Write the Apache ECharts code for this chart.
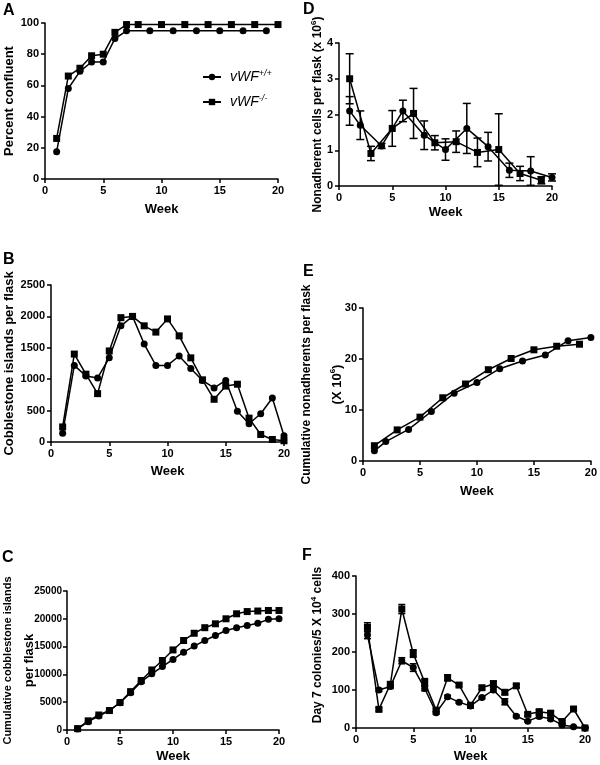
<!DOCTYPE html>
<html>
<head>
<meta charset="utf-8">
<script src="https://cdn.jsdelivr.net/npm/echarts@6/dist/echarts.min.js"></script>
<style>
  html, body { margin: 0; padding: 0; background: #fff; }
  #main { width: 600px; height: 765px; }
</style>
</head>
<body>
<div id="main"></div>
<script>
// weeks
var weeks = [1,2,3,4,5,6,7,8,9,10,11,12,13,14,15,16,17,18,19,20];

// A - percent confluent
var aWeeksWT = [1,2,3,4,5,6,7,9,11,13,15,17,19];
var aWT = [17.5,58,69,75,75,90,95,95,95,95,95,95,95];
var aWeeksKO = [1,2,3,4,5,6,7,8,10,12,14,16,18,20];
var aKO = [26,66,71,79,80,94,99,99,99,99,99,99,99,99];

// B - cobblestone islands per flask
var bWT = [140,1220,1050,1020,1340,1850,2000,1560,1220,1220,1370,1170,980,860,980,490,290,450,700,100];
var bKO = [240,1400,1080,770,1450,1980,2000,1850,1750,1960,1690,1340,990,680,890,920,380,120,40,20];

// C - cumulative cobblestone islands
var cWT = [200,1500,2500,3500,4900,6700,8700,10100,11400,12700,14000,15100,16100,17000,17900,18400,18800,19200,19900,20000];
var cKO = [250,1650,2700,3500,4950,6900,8900,10800,12500,14400,16100,17400,18400,19100,20000,20900,21300,21400,21500,21500];

// D - nonadherent cells (x10^6), mean and SEM
var dWeeksWT = [1,2,4,6,8,10,12,14,16,18,20];
var dWT = [2.1,1.7,1.12,2.1,1.42,1.02,1.61,1.1,0.44,0.42,0.24];
var dErrWT = [0.4,0.4,0.07,0.3,0.4,0.3,0.7,0.4,0.2,0.4,0.1];
var dWeeksKO = [1,3,5,7,9,11,13,15,17,19];
var dKO = [3.0,0.91,1.61,2.03,1.21,1.24,0.94,1.02,0.35,0.16];
var dErrKO = [0.7,0.2,0.5,0.7,0.2,0.3,0.4,1.0,0.2,0.1];

// E - cumulative nonadherents (x10^6)
var eWeeksWT = [1,2,4,6,8,10,12,14,16,18,20];
var eWT = [2.0,3.8,6.2,9.7,13.3,15.4,18.1,19.6,20.8,23.6,24.2];
var eWeeksKO = [1,3,5,7,9,11,13,15,17,19];
var eKO = [3.0,6.1,8.6,12.4,15.1,17.9,20.1,21.8,22.5,22.9];

// F - day 7 colonies / 5x10^4 cells
var fWT = [245,100,109,177,159,104,40,82,68,58,80,100,69,31,18,30,24,8,3,0];
var fErrWT = [10,4,5,8,10,6,4,4,3,5,3,6,8,3,2,4,4,2,1,2];
var fKO = [265,49,115,313,196,120,47,132,113,60,106,116,94,111,36,43,39,17,50,0];
var fErrKO = [12,4,6,12,10,10,4,8,4,4,4,8,6,4,4,5,5,3,4,2];

var FONT = 'Liberation Sans, Arial, sans-serif';
var WT = 'vWF+/+', KO = 'vWF-/-';

function pairs(xs, ys) {
    return xs.map(function (x, i) { return [x, ys[i]]; });
}

function xAx(idx, gap) {
    return {
        type: 'value', gridIndex: idx, min: 0, max: 20, interval: 5,
        name: 'Week', nameLocation: 'middle', nameGap: gap, nameMoveOverlap: false,
        nameTextStyle: { color: '#000', fontWeight: 'bold', fontSize: 13, lineHeight: 16, fontFamily: FONT },
        axisLine: { show: true, lineStyle: { color: '#000', width: 1.5 } },
        axisTick: { show: true, length: 4, lineStyle: { color: '#000', width: 1.5 } },
        axisLabel: { color: '#000', fontWeight: 'bold', fontSize: 11, margin: 6, fontFamily: FONT },
        splitLine: { show: false }
    };
}

function yAx(idx, max, interval, name, gap, extra, labelSize) {
    var ax = {
        type: 'value', gridIndex: idx, min: 0, max: max, interval: interval,
        name: name, nameLocation: 'middle', nameGap: gap, nameMoveOverlap: false,
        nameTextStyle: { color: '#000', fontWeight: 'bold', fontSize: 13, lineHeight: 16, fontFamily: FONT },
        axisLine: { show: true, lineStyle: { color: '#000', width: 1.5 } },
        axisTick: { show: true, length: 4, lineStyle: { color: '#000', width: 1.5 } },
        axisLabel: {
            color: '#000', fontWeight: 'bold', fontSize: labelSize || 11, margin: labelSize ? 5 : 6, fontFamily: FONT,
            formatter: function (v) { return String(v); }
        },
        splitLine: { show: false }
    };
    if (extra) {
        for (var k in extra) ax.nameTextStyle[k] = extra[k];
    }
    return ax;
}

function line(idx, name, sym, data) {
    return {
        type: 'line', name: name, xAxisIndex: idx, yAxisIndex: idx,
        data: data, symbol: sym, symbolSize: 7, showSymbol: true,
        lineStyle: { color: '#000', width: 1.5 },
        itemStyle: { color: '#000' },
        z: 3
    };
}

// vertical error bars with caps
function errBars(idx, xs, ys, es, cap) {
    return {
        type: 'custom', xAxisIndex: idx, yAxisIndex: idx, silent: true, z: 2,
        data: xs.map(function (x, i) { return [x, Math.max(0, ys[i] - es[i]), ys[i] + es[i]]; }),
        renderItem: function (params, api) {
            var lo = api.coord([api.value(0), api.value(1)]);
            var hi = api.coord([api.value(0), api.value(2)]);
            var st = { stroke: '#000', lineWidth: 1.5 };
            return {
                type: 'group', children: [
                    { type: 'line', shape: { x1: lo[0], y1: lo[1], x2: hi[0], y2: hi[1] }, style: st },
                    { type: 'line', shape: { x1: lo[0] - cap, y1: lo[1], x2: lo[0] + cap, y2: lo[1] }, style: st },
                    { type: 'line', shape: { x1: hi[0] - cap, y1: hi[1], x2: hi[0] + cap, y2: hi[1] }, style: st }
                ]
            };
        }
    };
}

var nameRich = {
    a: { fontSize: 12, fontWeight: 'bold', color: '#000', lineHeight: 16, fontFamily: FONT },
    m: { fontSize: 13, fontWeight: 'bold', color: '#000', lineHeight: 16, fontFamily: FONT },
    c: { fontSize: 11, fontWeight: 'bold', color: '#000', lineHeight: 14, fontFamily: FONT },
    b: { fontSize: 8, fontWeight: 'bold', color: '#000', lineHeight: 6, verticalAlign: 'top', fontFamily: FONT },
    g: { fontSize: 12, lineHeight: 14 },
    h: { fontSize: 12, lineHeight: 6 }
};

var letter = function (t, x, y) {
    return { text: t, left: x, top: y, padding: 0, textStyle: { fontSize: 16, fontWeight: 'bold', color: '#000', fontFamily: FONT } };
};

var myChart = echarts.init(document.getElementById('main'));
var option = {
    animation: false,
    backgroundColor: '#fff',
    textStyle: { fontFamily: FONT },
    title: [letter('A', 3, 3), letter('B', 3, 252), letter('C', 2, 550), letter('D', 303, 2), letter('E', 303, 264), letter('F', 302, 548)],
    legend: {
        orient: 'vertical', left: 197, top: 64, itemGap: 10,
        itemWidth: 18, itemHeight: 8, selectedMode: false,
        data: [WT, KO],
        formatter: function (n) {
            return n === WT ? '{i|vWF}{s|+/+}' : '{i|vWF}{s|-/-}';
        },
        textStyle: {
            rich: {
                i: { fontSize: 14, fontStyle: 'italic', color: '#000', lineHeight: 16, padding: [0, 0, 0, 4], fontFamily: FONT },
                s: { fontSize: 9, fontStyle: 'italic', color: '#000', lineHeight: 6, verticalAlign: 'top', fontFamily: FONT }
            }
        }
    },
    grid: [
        { left: 44, top: 23, width: 234, height: 156 },
        { left: 50, top: 285, width: 234, height: 157 },
        { left: 67, top: 591, width: 212, height: 142 },
        { left: 339, top: 43, width: 213, height: 143 },
        { left: 363, top: 308, width: 230, height: 153 },
        { left: 356, top: 576, width: 229, height: 152 }
    ],
    xAxis: [xAx(0, 22), xAx(1, 21), xAx(2, 18), xAx(3, 18), xAx(4, 22), xAx(5, 20)],
    yAxis: [
        yAx(0, 100, 20, 'Percent confluent', 28),
        yAx(1, 2500, 500, 'Cobblestone islands per flask', 34),
        yAx(2, 25000, 5000, '{c|Cumulative cobblestone islands}\n{h| }\n{m|per flask}', 30, { rich: nameRich }, 10),
        yAx(3, 4, 1, '{a|Nonadherent cells per flask (x 10}{b|6}{a|)}', 13, { rich: nameRich }),
        yAx(4, 30, 10, '{a|Cumulative nonadherents per flask}\n{g| }\n{m|(X 10}{b|6}{m|)}', 18, { rich: nameRich }),
        yAx(5, 400, 100, '{a|Day 7 colonies/5 X 10}{b|4}{a| cells}', 30, { rich: nameRich, padding: [0, 0, 0, 14] })
    ],
    series: [
        line(0, WT, 'circle', pairs(aWeeksWT, aWT)),
        line(0, KO, 'rect', pairs(aWeeksKO, aKO)),
        line(1, WT, 'circle', pairs(weeks, bWT)),
        line(1, KO, 'rect', pairs(weeks, bKO)),
        line(2, WT, 'circle', pairs(weeks, cWT)),
        line(2, KO, 'rect', pairs(weeks, cKO)),
        errBars(3, dWeeksWT, dWT, dErrWT, 4),
        errBars(3, dWeeksKO, dKO, dErrKO, 4),
        line(3, WT, 'circle', pairs(dWeeksWT, dWT)),
        line(3, KO, 'rect', pairs(dWeeksKO, dKO)),
        line(4, WT, 'circle', pairs(eWeeksWT, eWT)),
        line(4, KO, 'rect', pairs(eWeeksKO, eKO)),
        errBars(5, weeks, fWT, fErrWT, 3.5),
        errBars(5, weeks, fKO, fErrKO, 3.5),
        line(5, WT, 'circle', pairs(weeks, fWT)),
        line(5, KO, 'rect', pairs(weeks, fKO))
    ]
};
myChart.setOption(option);
</script>
</body>
</html>
